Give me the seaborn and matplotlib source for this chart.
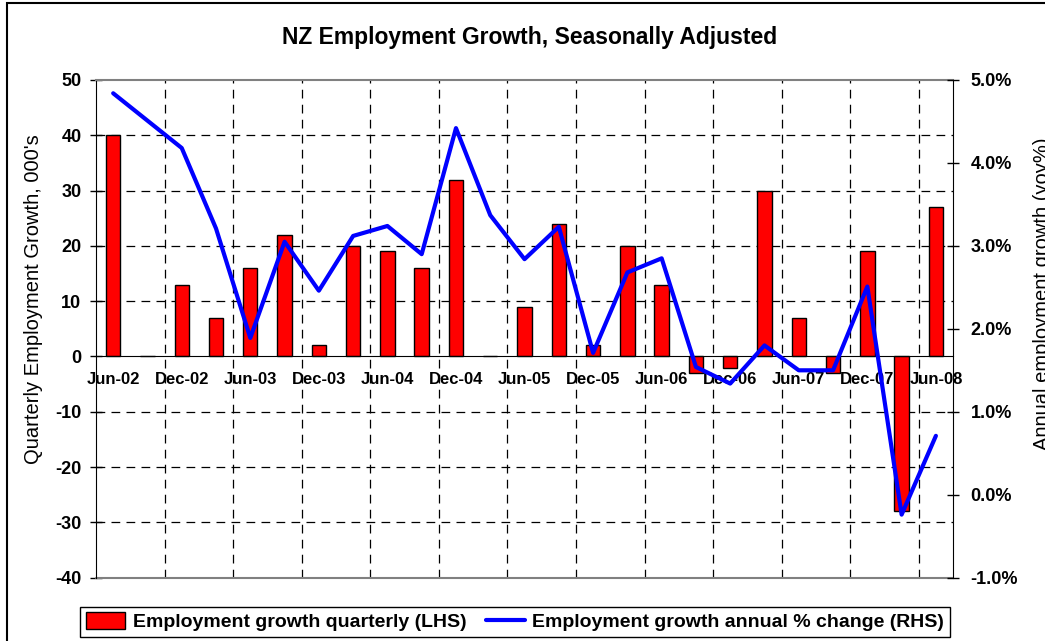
"""
NZ employment growth, seasonally adjusted: quarterly change (bars, LHS)
against annual % change (line, RHS).
"""

import numpy as np
import pandas as pd
import matplotlib
matplotlib.use("Agg")
import matplotlib.pyplot as plt
from matplotlib.patches import Patch, Rectangle
from matplotlib.lines import Line2D
from matplotlib.ticker import FuncFormatter
import seaborn as sns

quarters = [
    "Jun-02", "Sep-02", "Dec-02", "Mar-03", "Jun-03", "Sep-03", "Dec-03",
    "Mar-04", "Jun-04", "Sep-04", "Dec-04", "Mar-05", "Jun-05", "Sep-05",
    "Dec-05", "Mar-06", "Jun-06", "Sep-06", "Dec-06", "Mar-07", "Jun-07",
    "Sep-07", "Dec-07", "Mar-08", "Jun-08",
]
# quarterly change, 000's (LHS)
quarterly = [40, 0, 13, 7, 16, 22, 2, 20, 19, 16, 32, 0, 9, 24,
             2, 20, 13, -3, -2, 30, 7, -3, 19, -28, 27]
# annual % change (RHS)
annual = [4.84, 4.51, 4.18, 3.21, 1.89, 3.05, 2.46, 3.12, 3.24, 2.90, 4.42, 3.37, 2.84, 3.23,
          1.71, 2.68, 2.85, 1.54, 1.34, 1.80, 1.50, 1.50, 2.51, -0.24, 0.71]

lhs_ticks = [50, 40, 30, 20, 10, 0, -10, -20, -30, -40]
rhs_ticks = [5.0, 4.0, 3.0, 2.0, 1.0, 0.0, -1.0]

df = pd.DataFrame({"quarter": quarters, "quarterly": quarterly, "annual": annual})
df["pos"] = np.arange(len(df))

sns.set_style("white")
plt.rcParams["font.family"] = ["Liberation Sans", "DejaVu Sans"]
plt.rcParams["axes.unicode_minus"] = False
for key in ["text.color", "axes.labelcolor", "xtick.color", "ytick.color"]:
    plt.rcParams[key] = "black"

fig = plt.figure(figsize=(10.45, 6.41), dpi=100)
ax = fig.add_axes([0.0919, 0.0988, 0.8201, 0.7764])

sns.barplot(data=df, x="quarter", y="quarterly", order=quarters, color="#ff0000",
            saturation=1, width=0.42, edgecolor="black", linewidth=1, ax=ax)
ax.set_xlim(-0.5, len(quarters) - 0.5)
ax.set_ylim(min(lhs_ticks), max(lhs_ticks))
ax.set_yticks(lhs_ticks)

# dashed grid: horizontal at every 10, vertical between every second quarter
dash = (0, (7, 5))
for v in lhs_ticks[1:-1]:
    if v != 0:
        ax.axhline(v, color="black", lw=0.9, ls=dash, zorder=0)
ax.set_xticks(df["pos"][1:-1:2] + 0.5, minor=True)
ax.grid(which="minor", axis="x", color="black", lw=0.9, ls=dash)
ax.grid(which="major", axis="x", visible=False)
ax.set_axisbelow(True)

# category axis crosses at zero, like the original spreadsheet chart
ax.spines["bottom"].set_position(("data", 0))
ax.spines["bottom"].set_color("black")
ax.axhline(min(lhs_ticks), color="#808080", lw=1.5, clip_on=False)
ax.spines["top"].set_color("#808080")
ax.spines["top"].set_linewidth(1.5)
ax.spines["left"].set_color("black")
ax.spines["right"].set_visible(False)
ax.tick_params(axis="x", which="both", length=0, pad=11)
ax.tick_params(axis="y", direction="inout", length=9, width=1, pad=6, labelsize=13)
ax.set_xlabel("")
ax.set_ylabel("Quarterly Employment Growth, 000's", fontsize=14.5)
ax.yaxis.set_label_coords(-0.062, 0.56)

ax2 = ax.twinx()
sns.lineplot(data=df, x="pos", y="annual", color="#0000ff", lw=3, ax=ax2)
ax2.set_ylim(min(rhs_ticks), max(rhs_ticks))
ax2.set_yticks(rhs_ticks)
ax2.yaxis.set_major_formatter(FuncFormatter(lambda v, _: f"{v:.1f}%"))
ax2.tick_params(axis="y", direction="inout", length=9, width=1, pad=8, labelsize=13)
for side in ["top", "bottom", "left"]:
    ax2.spines[side].set_visible(False)
ax2.spines["right"].set_color("black")
ax2.set_xlabel("")
ax2.set_ylabel("Annual employment growth (yoy%)", fontsize=14.5)
ax2.yaxis.set_label_coords(1.093, 0.57)
ax2.set_xlim(-0.5, len(quarters) - 0.5)

# category labels every second quarter, set last so nothing resets them
ax.set_xticks(df["pos"][::2])
ax.set_xticklabels(df["quarter"][::2])
plt.setp(ax.get_xticklabels(), fontweight="bold", fontsize=12)
plt.setp(ax.get_yticklabels(), fontweight="bold")
plt.setp(ax2.get_yticklabels(), fontweight="bold")

fig.text(0.507, 0.942, "NZ Employment Growth, Seasonally Adjusted",
         ha="center", va="center", fontsize=16.5, fontweight="bold")

handles = [
    Patch(facecolor="#ff0000", edgecolor="black", lw=1),
    Line2D([], [], color="#0000ff", lw=3),
]
leg = fig.legend(handles, ["Employment growth quarterly (LHS)",
                           "Employment growth annual % change (RHS)"],
                 loc="center", bbox_to_anchor=(0.493, 0.030), ncol=2,
                 fancybox=False, edgecolor="black", framealpha=1,
                 prop={"weight": "bold", "size": 14},
                 handlelength=2.0, handleheight=0.9, columnspacing=1.0,
                 handletextpad=0.4, borderpad=0.3)
leg.get_frame().set_linewidth(1)

# outer chart border (runs off the right and bottom edges)
fig.patches.append(Rectangle((0.0067, -0.1), 1.2, 1.0953, transform=fig.transFigure,
                             fill=False, edgecolor="black", lw=1.5))

fig.savefig("out.png", dpi=100)
